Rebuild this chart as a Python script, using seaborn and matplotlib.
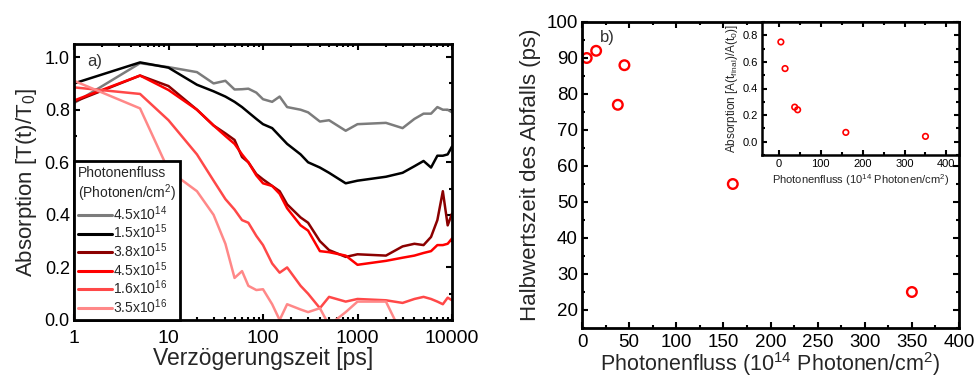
import numpy as np
import pandas as pd
import matplotlib
matplotlib.use("Agg")
import matplotlib.pyplot as plt
from matplotlib.ticker import MultipleLocator, LogLocator, NullFormatter, FormatStrFormatter
import seaborn as sns

sns.set_style("ticks")
plt.rcParams["font.family"] = ["Liberation Sans", "DejaVu Sans"]
plt.rcParams["mathtext.fontset"] = "custom"
plt.rcParams["mathtext.rm"] = "Liberation Sans"
plt.rcParams["mathtext.it"] = "Liberation Sans:italic"
plt.rcParams["mathtext.bf"] = "Liberation Sans:bold"
plt.rcParams["mathtext.default"] = "regular"

# ---- panel a: transient absorption vs. delay time ----
delay_ps = [1, 5, 10, 20, 30, 40, 50, 60, 70, 85, 100, 125, 150, 180, 250,
            300, 400, 500, 750, 1000, 2000, 3000, 4000, 5000, 6000, 7000,
            8000, 9000, 10000]

abs_4_5e14 = [0.825, 0.977, 0.962, 0.943, 0.900, 0.910, 0.877, 0.878, 0.880,
              0.865, 0.840, 0.830, 0.850, 0.810, 0.800, 0.790, 0.755, 0.760,
              0.720, 0.745, 0.750, 0.730, 0.765, 0.785, 0.785, 0.810, 0.800,
              0.800, 0.790]
abs_1_5e15 = [0.900, 0.980, 0.960, 0.895, 0.870, 0.850, 0.830, 0.810, 0.790,
              0.765, 0.745, 0.730, 0.700, 0.670, 0.630, 0.600, 0.580, 0.560,
              0.520, 0.530, 0.545, 0.560, 0.585, 0.605, 0.580, 0.625, 0.625,
              0.630, 0.660]
abs_3_8e15 = [0.830, 0.930, 0.890, 0.800, 0.740, 0.710, 0.685, 0.620, 0.600,
              0.555, 0.535, 0.510, 0.490, 0.440, 0.390, 0.370, 0.300, 0.266,
              0.240, 0.250, 0.245, 0.280, 0.290, 0.285, 0.316, 0.380, 0.490,
              0.360, 0.405]
abs_4_5e15 = [0.835, 0.930, 0.875, 0.800, 0.740, 0.700, 0.670, 0.630, 0.600,
              0.550, 0.520, 0.510, 0.480, 0.425, 0.360, 0.340, 0.262, 0.258,
              0.245, 0.210, 0.225, 0.237, 0.245, 0.255, 0.262, 0.285, 0.285,
              0.290, 0.310]
abs_1_6e16 = [0.885, 0.860, 0.760, 0.630, 0.530, 0.460, 0.420, 0.380, 0.370,
              0.320, 0.285, 0.215, 0.180, 0.200, 0.130, 0.100, 0.045, 0.088,
              0.070, 0.080, 0.075, 0.065, 0.080, 0.088, 0.080, 0.070, 0.060,
              0.085, 0.075]
abs_3_5e16 = [0.910, 0.805, 0.570, 0.490, 0.400, 0.290, 0.160, 0.186, 0.130,
              0.114, 0.117, 0.060, 0.000, 0.060, 0.040, 0.030, 0.045, -0.020,
              0.030, 0.070, 0.070, -0.060, -0.060, -0.060, -0.060, -0.060,
              -0.060, -0.060, -0.060]

fluence_labels = ["4.5x10$^{14}$", "1.5x10$^{15}$", "3.8x10$^{15}$",
                  "4.5x10$^{15}$", "1.6x10$^{16}$", "3.5x10$^{16}$"]
series = [abs_4_5e14, abs_1_5e15, abs_3_8e15, abs_4_5e15, abs_1_6e16, abs_3_5e16]
line_colors = ["#7c7c7c", "#000000", "#8b0000", "#ff0000", "#ff4848", "#ff8888"]

# ---- panel b: half-life of the decay vs. photon fluence ----
fluence = [5, 15, 38, 45, 160, 350]          # 10^14 photons / cm^2
half_life = [90, 92, 77, 88, 55, 25]          # ps
final_ratio = [0.75, 0.55, 0.26, 0.24, 0.07, 0.04]

df_a = pd.DataFrame({
    "delay": np.tile(delay_ps, len(series)),
    "absorption": np.concatenate(series),
    "fluence": np.repeat(fluence_labels, len(delay_ps)),
})
df_b = pd.DataFrame({"fluence": fluence, "half_life": half_life,
                     "ratio": final_ratio})

W, H = 976, 378
fig = plt.figure(figsize=(W / 100, H / 100), dpi=100)

def frac(x0, y0, x1, y1):
    return [x0 / W, 1 - y1 / H, (x1 - x0) / W, (y1 - y0) / H]

ax_a = fig.add_axes(frac(74, 44, 452, 320))
ax_b = fig.add_axes(frac(582, 22, 959, 328))
ax_in = fig.add_axes(frac(762, 22, 959, 155))

sns.lineplot(data=df_a, x="delay", y="absorption", hue="fluence",
             hue_order=fluence_labels, palette=dict(zip(fluence_labels, line_colors)),
             linewidth=1.8, ax=ax_a, legend=True, sort=False)
ax_a.set_xscale("log")
ax_a.set_xlim(1, 10000)
ax_a.set_ylim(0, 1.05)
ax_a.set_xticks([1, 10, 100, 1000, 10000])
ax_a.set_xticklabels(["1", "10", "100", "1000", "10000"])
ax_a.xaxis.set_minor_locator(LogLocator(base=10, subs=np.arange(2, 10)))
ax_a.xaxis.set_minor_formatter(NullFormatter())
ax_a.yaxis.set_major_locator(MultipleLocator(0.2))
ax_a.yaxis.set_minor_locator(MultipleLocator(0.1))
ax_a.yaxis.set_major_formatter(FormatStrFormatter("%.1f"))
ax_a.set_xlabel("Verzögerungszeit [ps]", fontsize=16.5, labelpad=0)
ax_a.set_ylabel("Absorption [T(t)/T$_0$]", fontsize=16, labelpad=4)
ax_a.text(0.035, 0.935, "a)", transform=ax_a.transAxes, fontsize=12,
          color="#333333", va="center", ha="left")

handles, labels = ax_a.get_legend_handles_labels()
leg = ax_a.legend(handles, labels, title="Photonenfluss\n(Photonen/cm$^2$)",
                  loc="lower left", bbox_to_anchor=(0, 0), borderaxespad=0,
                  fontsize=10, title_fontsize=10, frameon=True, fancybox=False,
                  framealpha=1, edgecolor="black", handlelength=2.4,
                  handletextpad=0.1, labelspacing=0.0, borderpad=0.3,
                  alignment="left")
leg.get_frame().set_linewidth(2)
for ln in leg.get_lines():
    ln.set_linewidth(2.2)

sns.scatterplot(data=df_b, x="fluence", y="half_life", ax=ax_b, s=48,
                marker="o", facecolor="none", edgecolor="#ff0000",
                linewidth=1.7, legend=False)
ax_b.set_xlim(0, 400)
ax_b.set_ylim(15, 100)
ax_b.xaxis.set_major_locator(MultipleLocator(50))
ax_b.xaxis.set_minor_locator(MultipleLocator(25))
ax_b.yaxis.set_major_locator(MultipleLocator(10))
ax_b.yaxis.set_minor_locator(MultipleLocator(5))
ax_b.set_xlabel("Photonenfluss (10$^{14}$ Photonen/cm$^2$)", fontsize=15.5, labelpad=0)
ax_b.set_ylabel("Halbwertszeit des Abfalls (ps)", fontsize=16, labelpad=4)
ax_b.text(0.048, 0.948, "b)", transform=ax_b.transAxes, fontsize=12,
          color="#333333", va="center", ha="left")

sns.scatterplot(data=df_b, x="fluence", y="ratio", ax=ax_in, s=16,
                marker="o", facecolor="none", edgecolor="#ff0000",
                linewidth=1.2, legend=False)
ax_in.set_xlim(-40, 430)
ax_in.set_ylim(-0.1, 0.9)
ax_in.xaxis.set_major_locator(MultipleLocator(100))
ax_in.xaxis.set_minor_locator(MultipleLocator(50))
ax_in.yaxis.set_major_locator(MultipleLocator(0.2))
ax_in.yaxis.set_minor_locator(MultipleLocator(0.1))
ax_in.yaxis.set_major_formatter(FormatStrFormatter("%.1f"))
ax_in.set_xlabel("Photonenfluss (10$^{14}$ Photonen/cm$^2$)", fontsize=8, labelpad=2)
ax_in.set_ylabel("Absorption [A(t$_{final}$)/A(t$_0$)]", fontsize=8.5, labelpad=2)

for ax, xlab, ylab, maj, mnr, pad in [(ax_a, 14, 13, 4.5, 2.5, 7.5),
                                      (ax_b, 13.5, 13.5, 4.5, 2.5, 4.0),
                                      (ax_in, 8, 8, 3.5, 2, 3)]:
    for sp in ax.spines.values():
        sp.set_linewidth(2 if ax is not ax_in else 1.8)
        sp.set_color("black")
    ax.tick_params(which="both", direction="in", top=True, right=True,
                   width=1.5, colors="black")
    ax.tick_params(which="major", length=maj)
    ax.tick_params(which="minor", length=mnr)
    ax.tick_params(axis="x", which="major", pad=pad, labelsize=xlab)
    ax.tick_params(axis="y", which="major", pad=3, labelsize=ylab)

fig.savefig("out.png", dpi=100)
